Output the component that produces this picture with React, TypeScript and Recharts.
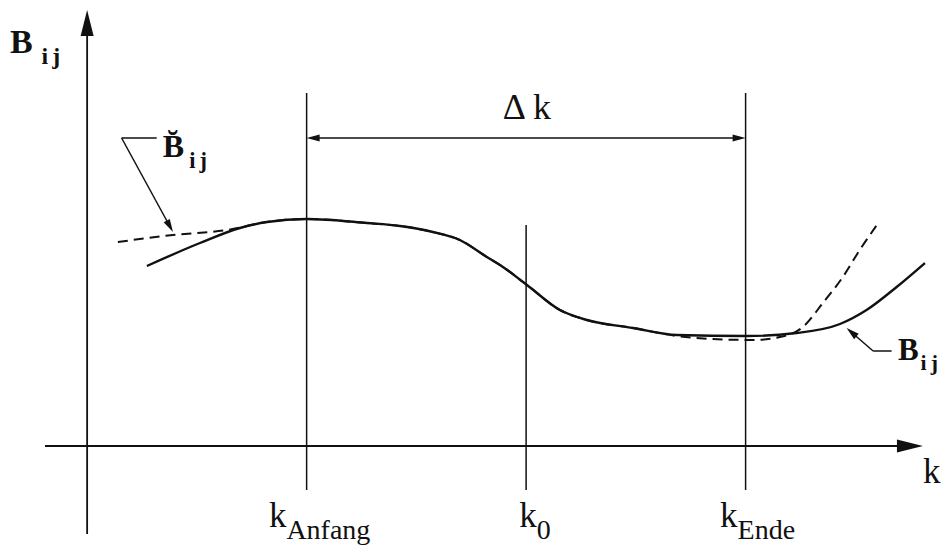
import { LineChart, Line, XAxis, YAxis, ReferenceLine, ReferenceDot } from 'recharts'

const INK = '#111'
const SERIF = 'Liberation Serif, DejaVu Serif, serif'

// real curve B_ij over k
const kReal = [2.72, 5.14, 6.96, 8.19, 10, 12.75, 14.25, 15.75, 16.98, 18.21, 18.81, 20.04, 21.54, 22.77, 24.87, 26.87, 30.06, 32.32, 34.3, 35.51, 36.88, 38.17]
const bReal = [18.0, 20.3, 21.8, 22.4, 22.7, 22.3, 22.0, 21.4, 20.6, 18.9, 18.1, 16.1, 13.6, 12.6, 11.8, 11.1, 11.0, 11.3, 12.2, 13.6, 15.9, 18.3]

// approximation B̆_ij, follows the real curve inside the window
const kApprox = [1.4, 3.91, 6.37, 8.19, 10, 12.75, 14.25, 15.75, 16.98, 18.21, 18.81, 20.04, 21.54, 22.77, 24.87, 26.87, 28.51, 30.33, 31.56, 32.61, 33.52, 34.43, 35.2, 35.98]
const bApprox = [20.4, 21.1, 21.6, 22.4, 22.7, 22.3, 22.0, 21.4, 20.6, 18.9, 18.1, 16.1, 13.6, 12.6, 11.8, 11.0, 10.7, 10.6, 10.9, 11.9, 14.3, 16.9, 19.6, 22.1]

// marked points on the k axis
const kMarks = [10, 20, 30]
const kMarkTops = [35.3, 22.1, 35.3]
const kMarkSubs = ['Anfang', '0', 'Ende']
const kMarkShift = [13, 9, 12]

const K_DOMAIN = [-3.97, 39.13]
const B_DOMAIN = [-10.2, 44.6]
const K_AXIS = [-1.92, 38.08]
const B_AXIS = [-8.8, 43.6]
const MARK_BOTTOM = -4.4
const DELTA_LEVEL = 30.8

const realData = kReal.map((k, i) => ({ k, b: bReal[i] }))
const approxData = kApprox.map((k, i) => ({ k, b: bApprox[i] }))

const textStyle = { fontFamily: SERIF }

type Pt = { x: number; y: number }

function head(tip: Pt, ux: number, uy: number, len: number, half: number) {
  const bx = tip.x - ux * len
  const by = tip.y - uy * len
  return `${tip.x},${tip.y} ${bx - uy * half},${by + ux * half} ${bx + uy * half},${by - ux * half}`
}

// line with filled arrowheads at one or both ends
function ArrowLine(p: any) {
  const { x1, y1, x2, y2, both = false, len = 24, half = 6, width = 1.8 } = p
  const d = Math.hypot(x2 - x1, y2 - y1) || 1
  const ux = (x2 - x1) / d
  const uy = (y2 - y1) / d
  const sx = both ? x1 + ux * len * 0.7 : x1
  const sy = both ? y1 + uy * len * 0.7 : y1
  return (
    <g>
      <line x1={sx} y1={sy} x2={x2 - ux * len * 0.7} y2={y2 - uy * len * 0.7} stroke={INK} strokeWidth={width} />
      <polygon points={head({ x: x2, y: y2 }, ux, uy, len, half)} fill={INK} />
      {both && <polygon points={head({ x: x1, y: y1 }, -ux, -uy, len, half)} fill={INK} />}
    </g>
  )
}

function BLabel({ cx, cy, size, gap, breve = false }: any) {
  return (
    <text x={cx} y={cy} style={textStyle} fill={INK} fontWeight="bold">
      <tspan fontSize={size}>{breve ? 'B\u0306' : 'B'}</tspan>
      <tspan fontSize={size * 0.7} dx={gap} dy={size * 0.33} letterSpacing={4}>ij</tspan>
    </text>
  )
}

export default function App() {
  return (
    <div style={{ position: 'absolute', left: 0, top: 0, width: 946, height: 548, background: '#fff' }}>
      <LineChart width={946} height={548} margin={{ top: 0, right: 0, bottom: 0, left: 0 }}>
        <XAxis type="number" dataKey="k" domain={K_DOMAIN} allowDataOverflow hide />
        <YAxis type="number" dataKey="b" domain={B_DOMAIN} allowDataOverflow hide />

        {/* axes */}
        <ReferenceLine
          segment={[{ x: K_AXIS[0], y: 0 }, { x: K_AXIS[1], y: 0 }]}
          shape={(p: any) => <ArrowLine {...p} len={26} half={6.5} />}
        />
        <ReferenceLine
          segment={[{ x: 0, y: B_AXIS[0] }, { x: 0, y: B_AXIS[1] }]}
          shape={(p: any) => <ArrowLine {...p} len={26} half={6.5} />}
        />

        {/* window boundaries and k0 */}
        {kMarks.map((k, i) => (
          <ReferenceLine
            key={k}
            segment={[{ x: k, y: MARK_BOTTOM }, { x: k, y: kMarkTops[i] }]}
            stroke={INK}
            strokeWidth={1.5}
          />
        ))}

        {/* window width */}
        <ReferenceLine
          segment={[{ x: kMarks[0], y: DELTA_LEVEL }, { x: kMarks[2], y: DELTA_LEVEL }]}
          shape={(p: any) => <ArrowLine {...p} both len={13} half={3.5} width={1.6} />}
        />
        <ReferenceDot
          x={18.94}
          y={32.7}
          shape={(p: any) => (
            <text x={p.cx} y={p.cy} style={textStyle} fontSize={36} fill={INK}>
              Δ k
            </text>
          )}
        />

        <Line data={realData} dataKey="b" type="monotone" stroke={INK} strokeWidth={2.4} dot={false} activeDot={false} isAnimationActive={false} />
        <Line data={approxData} dataKey="b" type="monotone" stroke={INK} strokeWidth={2} strokeDasharray="10 6" dot={false} activeDot={false} isAnimationActive={false} />

        {/* leaders to the curve names */}
        <ReferenceLine segment={[{ x: 1.57, y: 30.8 }, { x: 3.17, y: 30.8 }]} stroke={INK} strokeWidth={1.5} />
        <ReferenceLine
          segment={[{ x: 1.57, y: 30.8 }, { x: 3.91, y: 21.4 }]}
          shape={(p: any) => <ArrowLine {...p} len={13} half={3.5} width={1.5} />}
        />
        <ReferenceLine segment={[{ x: 35.81, y: 9.5 }, { x: 36.65, y: 9.5 }]} stroke={INK} strokeWidth={1.5} />
        <ReferenceLine
          segment={[{ x: 35.81, y: 9.5 }, { x: 34.6, y: 11.8 }]}
          shape={(p: any) => <ArrowLine {...p} len={13} half={3.5} width={1.5} />}
        />

        {/* text */}
        <ReferenceDot x={-3.52} y={39.3} shape={(p: any) => <BLabel cx={p.cx} cy={p.cy} size={34} gap={9} />} />
        <ReferenceDot x={3.45} y={28.9} shape={(p: any) => <BLabel cx={p.cx} cy={p.cy} size={32} gap={5} breve />} />
        <ReferenceDot x={36.94} y={8.6} shape={(p: any) => <BLabel cx={p.cx} cy={p.cy} size={31} gap={2} />} />
        <ReferenceDot
          x={38.08}
          y={-3.7}
          shape={(p: any) => (
            <text x={p.cx} y={p.cy} style={textStyle} fontSize={35} fill={INK}>
              k
            </text>
          )}
        />
        {kMarks.map((k, i) => (
          <ReferenceDot
            key={`t${k}`}
            x={k}
            y={-8.1}
            shape={(p: any) => (
              <text x={p.cx + kMarkShift[i]} y={p.cy} textAnchor="middle" style={textStyle} fill={INK}>
                <tspan fontSize={35}>k</tspan>
                <tspan fontSize={28} dy={12}>{kMarkSubs[i]}</tspan>
              </text>
            )}
          />
        ))}
      </LineChart>
    </div>
  )
}
